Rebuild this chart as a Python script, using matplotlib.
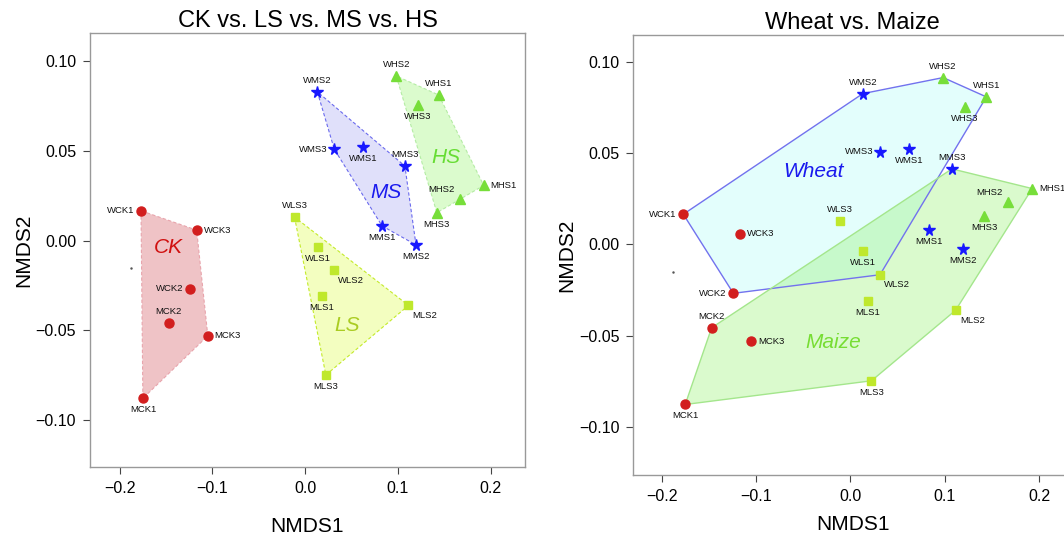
import numpy as np
import matplotlib
matplotlib.use('Agg')
from matplotlib import pyplot as plt

plt.rcParams['font.family'] = ['Liberation Sans', 'DejaVu Sans']

# 시료 이름과 NMDS 좌표
names_ck = ['WCK1', 'WCK2', 'WCK3', 'MCK1', 'MCK2', 'MCK3']
x_ck = [-0.177, -0.124, -0.117, -0.175, -0.147, -0.105]
y_ck = [0.0166, -0.0268, 0.0058, -0.0878, -0.0457, -0.0530]

names_ls = ['WLS1', 'WLS2', 'WLS3', 'MLS1', 'MLS2', 'MLS3']
x_ls = [0.0135, 0.0313, -0.0115, 0.0182, 0.1114, 0.0223]
y_ls = [-0.0036, -0.0166, 0.0131, -0.0310, -0.0361, -0.0748]

names_ms = ['WMS1', 'WMS2', 'WMS3', 'MMS1', 'MMS2', 'MMS3']
x_ms = [0.0622, 0.0131, 0.0314, 0.0830, 0.1195, 0.1075]
y_ms = [0.0523, 0.0828, 0.0508, 0.0081, -0.0024, 0.0415]

names_hs = ['WHS1', 'WHS2', 'WHS3', 'MHS1', 'MHS2', 'MHS3']
x_hs = [0.1440, 0.0982, 0.1213, 0.1925, 0.1670, 0.1420]
y_hs = [0.0810, 0.0916, 0.0753, 0.0307, 0.0231, 0.0155]

# 작은 점 하나 (원본 그림에 있음)
x_dot = [-0.188]
y_dot = [-0.015]

groups = ['CK', 'LS', 'MS', 'HS']
crops = ['Wheat', 'Maize']

# 그룹 이름 표시 위치
lab_left = {'CK': (-0.148, -0.004), 'LS': (0.045, -0.047), 'MS': (0.087, 0.027), 'HS': (0.152, 0.046)}
lab_right = {'Wheat': (-0.039, 0.040), 'Maize': (-0.018, -0.054)}

# 라벨 위치: 점 기준 방향
place = {
    'WCK1': 'l', 'WCK3': 'r', 'WCK2': 'l', 'MCK2': 'a', 'MCK3': 'r', 'MCK1': 'b',
    'WLS3': 'a', 'WLS1': 'b', 'WLS2': 'br', 'MLS1': 'b', 'MLS2': 'br', 'MLS3': 'b',
    'WMS2': 'a', 'WMS3': 'l', 'WMS1': 'b', 'MMS3': 'a', 'MMS1': 'b', 'MMS2': 'b',
    'WHS2': 'a', 'WHS1': 'ar', 'WHS3': 'b', 'MHS1': 'r', 'MHS2': 'al', 'MHS3': 'b',
}
offs = {'l': (-5, 0, 'right', 'center'), 'r': (5, 0, 'left', 'center'),
        'a': (0, 5, 'center', 'bottom'), 'b': (0, -5, 'center', 'top'),
        'br': (3, -4, 'left', 'top'), 'ar': (0, 5, 'center', 'bottom'),
        'al': (-4, 4, 'right', 'bottom')}

style = {
    'CK': dict(marker='o', mc='#d21e1e', ms=6.5, fill='#efc3c6', edge='#e8a4ac', tc='#d01010'),
    'LS': dict(marker='s', mc='#bfe82c', ms=5.5, fill='#f3fec0', edge='#c4ea2a', tc='#aacc22'),
    'MS': dict(marker='*', mc='#1818ff', ms=8.5, fill='#e0e0fa', edge='#6a6aee', tc='#1a1aee'),
    'HS': dict(marker='^', mc='#77de3a', ms=6.5, fill='#dbfbcd', edge='#b4eca4', tc='#66dd33'),
}


def hull(px, py):
    pts = sorted(set(zip(px, py)))
    def cross(o, a, b):
        return (a[0]-o[0])*(b[1]-o[1]) - (a[1]-o[1])*(b[0]-o[0])
    lo, up = [], []
    for p in pts:
        while len(lo) >= 2 and cross(lo[-2], lo[-1], p) <= 0:
            lo.pop()
        lo.append(p)
    for p in reversed(pts):
        while len(up) >= 2 and cross(up[-2], up[-1], p) <= 0:
            up.pop()
        up.append(p)
    return np.array(lo[:-1] + up[:-1])


data = {'CK': (names_ck, x_ck, y_ck), 'LS': (names_ls, x_ls, y_ls),
        'MS': (names_ms, x_ms, y_ms), 'HS': (names_hs, x_hs, y_hs)}


def setup(ax, title, xlim, ylim, xpad):
    ax.set_xlim(xlim)
    ax.set_ylim(ylim)
    ax.set_xticks([-0.2, -0.1, 0.0, 0.1, 0.2])
    ax.set_xticklabels(['\u22120.2', '\u22120.1', '0.0', '0.1', '0.2'])
    ax.set_yticks([-0.10, -0.05, 0.0, 0.05, 0.10])
    ax.set_yticklabels(['\u22120.10', '\u22120.05', '0.00', '0.05', '0.10'])
    ax.tick_params(direction='out', length=5, width=0.8, labelsize=11.5, color='#444444', pad=5)
    for s in ax.spines.values():
        s.set_color('#999999')
        s.set_linewidth(1.0)
    ax.set_title(title, fontsize=17, pad=4)
    ax.set_xlabel('NMDS1', fontsize=15, labelpad=xpad)
    ax.set_ylabel('NMDS2', fontsize=15, labelpad=2)


def points(ax):
    for g in groups:
        nm, xs, ys = data[g]
        st = style[g]
        ax.plot(xs, ys, ls='none', marker=st['marker'], color=st['mc'], ms=st['ms'], zorder=5)
        for n, x, y in zip(nm, xs, ys):
            dx, dy, ha, va = offs[place[n]]
            ax.annotate(n, (x, y), xytext=(dx, dy), textcoords='offset points',
                        ha=ha, va=va, fontsize=6.8, color='#111111', zorder=6)
    ax.plot(x_dot, y_dot, ls='none', marker='.', ms=1.5, color='#555555')


plt.figure(figsize=(10.64, 5.36), dpi=100)

# 왼쪽: 처리별
ax1 = plt.axes([0.0846, 0.1287, 0.4088, 0.8097])
setup(ax1, 'CK vs. LS vs. MS vs. HS', (-0.232, 0.237), (-0.126, 0.1155), 15)
for g in groups:
    nm, xs, ys = data[g]
    st = style[g]
    h = hull(xs, ys)
    ax1.fill(h[:, 0], h[:, 1], color=st['fill'], lw=0, zorder=1)
    hc = np.vstack([h, h[:1]])
    ax1.plot(hc[:, 0], hc[:, 1], ls=(0, (3, 2)), color=st['edge'], lw=0.8, zorder=2)
    ax1.text(*lab_left[g], g, color=st['tc'], fontsize=15, style='italic', ha='center', va='center', zorder=3)
points(ax1)

# 오른쪽: 작물별
ax2 = plt.axes([0.5952, 0.1138, 0.4126, 0.821])
setup(ax2, 'Wheat vs. Maize', (-0.23, 0.235), (-0.1265, 0.115), 8)
crop_style = {'Wheat': dict(fill='#e3fefc', alpha=1.0, edge='#7272ee', tc='#1a1aee'),
              'Maize': dict(fill='#8cf066', alpha=0.32, edge='#a4e68c', tc='#77dd33')}
for c in crops:
    xs, ys = [], []
    for g in groups:
        nm, gx, gy = data[g]
        for n, x, y in zip(nm, gx, gy):
            if n[0] == c[0]:
                xs.append(x)
                ys.append(y)
    h = hull(xs, ys)
    cs = crop_style[c]
    ax2.fill(h[:, 0], h[:, 1], color=cs['fill'], alpha=cs['alpha'], lw=0, zorder=1)
    hc = np.vstack([h, h[:1]])
    ax2.plot(hc[:, 0], hc[:, 1], color=cs['edge'], lw=1.0, zorder=2)
    ax2.text(*lab_right[c], c, color=cs['tc'], fontsize=15, style='italic', ha='center', va='center', zorder=3)
points(ax2)

plt.savefig('out.png', dpi=100)
